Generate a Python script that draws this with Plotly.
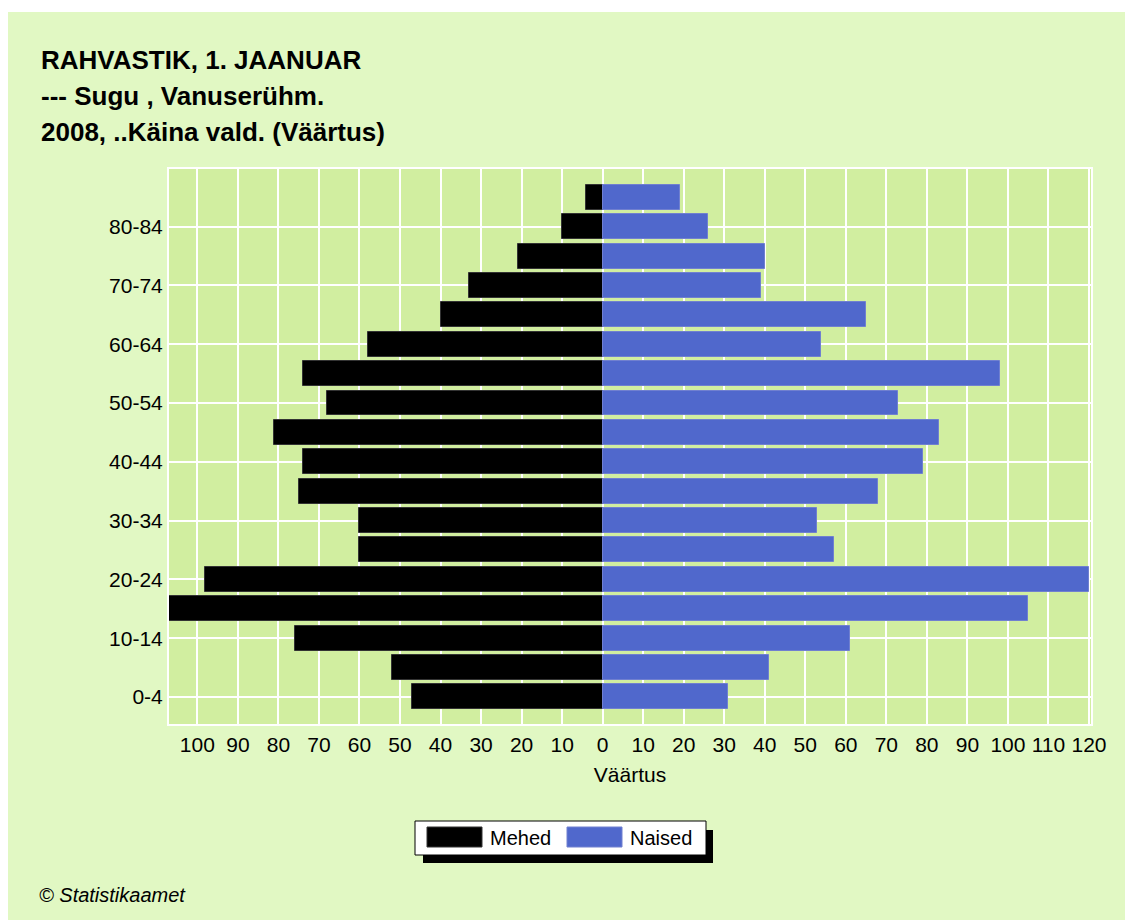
import plotly.graph_objects as go

# ---------------- data ----------------
age_groups = ["0-4", "5-9", "10-14", "15-19", "20-24", "25-29", "30-34", "35-39",
              "40-44", "45-49", "50-54", "55-59", "60-64", "65-69", "70-74",
              "75-79", "80-84", "85+"]
men = [47, 52, 76, 107, 98, 60, 60, 75, 74, 81, 68, 74, 58, 40, 33, 21, 10, 4]
women = [31, 41, 61, 105, 120, 57, 53, 68, 79, 83, 73, 98, 54, 65, 39, 40, 26, 19]
x_tick_vals = list(range(-100, 121, 10))
x_tick_text = [str(abs(v)) for v in x_tick_vals]
y_tick_labels = age_groups[0::2][:9]

title_lines = ["RAHVASTIK, 1. JAANUAR", "--- Sugu , Vanuserühm.", "2008, ..Käina vald. (Väärtus)"]
legend_names = ["Mehed", "Naised"]

# ---------------- style ----------------
OFF = 8  # page body margin
W, H = 1133, 920
# plot area in screen pixels
SL, SR, ST, SB = 169, 1091, 169, 724
L, R, T, B = SL - OFF, SR - OFF, ST - OFF, SB - OFF
PAPER = "#E1F8C3"
PLOT = "#D1EEA0"
BLUE = "#5068CC"
FONT = "Liberation Sans, Arial, sans-serif"


def px(x):
    return (x - OFF - L) / (R - L)


def py(y):
    return (B - (y - OFF)) / (B - T)


fig = go.Figure()
fig.add_trace(go.Bar(
    y=age_groups, x=[-v for v in men], orientation="h", name=legend_names[0],
    marker=dict(color="black", line=dict(color="#333333", width=1)),
    width=0.85, showlegend=False,
))
fig.add_trace(go.Bar(
    y=age_groups, x=women, orientation="h", name=legend_names[1],
    marker=dict(color=BLUE, line=dict(color="#7080D0", width=1)),
    width=0.85, showlegend=False,
))

shapes = []
# white strip at top (page is otherwise light green)
shapes.append(dict(type="rect", xref="paper", yref="paper", x0=px(OFF), x1=px(OFF + W), y0=py(OFF), y1=py(12),
                   fillcolor="white", line=dict(width=0), layer="below"))
# legend with drop shadow
shapes.append(dict(type="rect", xref="paper", yref="paper", x0=px(423), x1=px(713), y0=py(830), y1=py(863),
                   fillcolor="black", line=dict(width=0)))
shapes.append(dict(type="rect", xref="paper", yref="paper", x0=px(415), x1=px(706), y0=py(821), y1=py(855),
                   fillcolor="white", line=dict(color="black", width=1)))
shapes.append(dict(type="rect", xref="paper", yref="paper", x0=px(427), x1=px(482), y0=py(827), y1=py(847),
                   fillcolor="black", line=dict(color="#333333", width=1)))
shapes.append(dict(type="rect", xref="paper", yref="paper", x0=px(567), x1=px(622), y0=py(827), y1=py(847),
                   fillcolor=BLUE, line=dict(color="#7080D0", width=1)))

annotations = []
for i, (line, yc) in enumerate(zip(title_lines, [60, 96, 132])):
    annotations.append(dict(text=line, xref="paper", yref="paper", x=px(39), y=py(yc),
                            xanchor="left", yanchor="middle", showarrow=False,
                            font=dict(family=FONT, size=26, color="black", weight="bold")))
annotations.append(dict(text=legend_names[0], xref="paper", yref="paper", x=px(488), y=py(838),
                        xanchor="left", yanchor="middle", showarrow=False,
                        font=dict(family=FONT, size=20, color="black")))
annotations.append(dict(text=legend_names[1], xref="paper", yref="paper", x=px(628), y=py(838),
                        xanchor="left", yanchor="middle", showarrow=False,
                        font=dict(family=FONT, size=20, color="black")))
annotations.append(dict(text="© Statistikaamet", xref="paper", yref="paper", x=px(37), y=py(895),
                        xanchor="left", yanchor="middle", showarrow=False,
                        font=dict(family=FONT, size=20, color="black", style="italic")))

fig.update_layout(
    width=W, height=H,
    margin=dict(l=L, r=W - R, t=T, b=H - B, pad=0),
    paper_bgcolor=PAPER, plot_bgcolor=PLOT,
    barmode="overlay", bargap=0,
    font=dict(family=FONT, size=21, color="black"),
    shapes=shapes, annotations=annotations,
    showlegend=False,
    xaxis=dict(
        range=[-107, 120.5], tickvals=x_tick_vals, ticktext=x_tick_text,
        showgrid=True, gridcolor="white", gridwidth=2, zeroline=False,
        showline=True, linecolor="white", linewidth=2, mirror=True,
        ticks="", ticklabelstandoff=1,
        title=dict(text="Väärtus", font=dict(size=21), standoff=12),
        fixedrange=True,
    ),
    yaxis=dict(
        type="category", categoryorder="array", categoryarray=age_groups,
        range=[-0.92, 17.96], tickvals=y_tick_labels,
        showgrid=True, gridcolor="white", gridwidth=2, zeroline=False,
        showline=True, linecolor="white", linewidth=2, mirror=True,
        ticks="", ticklabelstandoff=0,
        fixedrange=True,
    ),
)

fig.write_html("out.html", post_script="document.body.style.overflow='hidden';")
